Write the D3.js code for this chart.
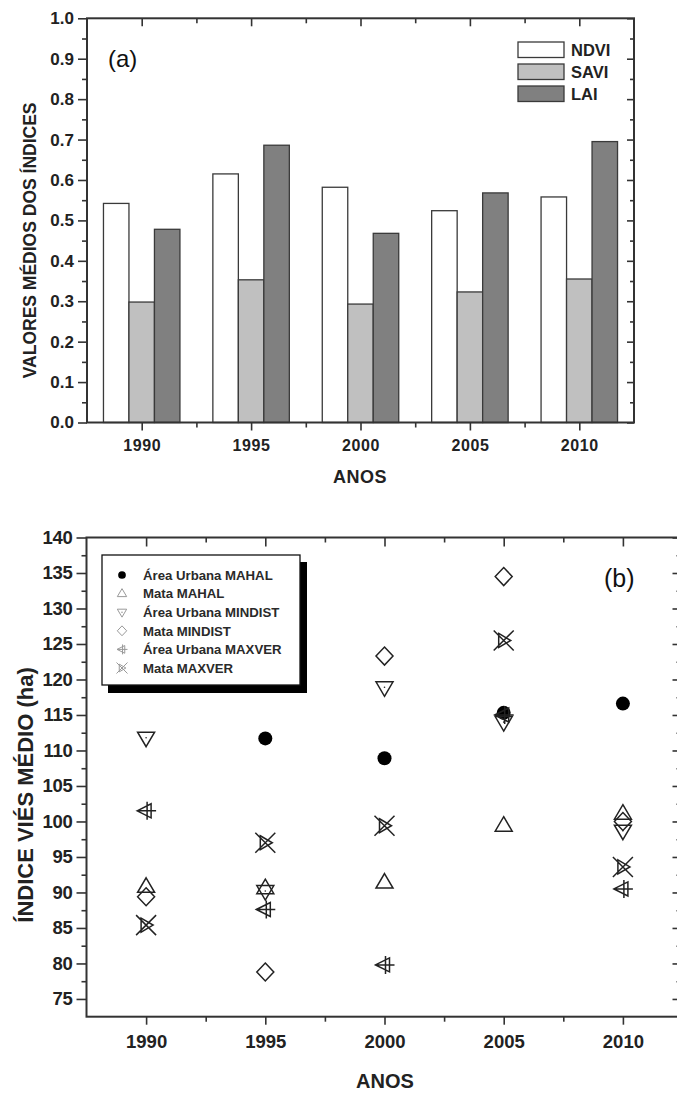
<!DOCTYPE html>
<html><head><meta charset="utf-8">
<script src="https://cdn.jsdelivr.net/npm/d3@7"></script>
<style>
body{margin:0;background:#fff;}
svg{display:block;}
text{font-family:"Liberation Sans",Arial,sans-serif;}
</style></head>
<body>
<svg id="c" width="677" height="1095"></svg>
<script>
// ---------- DATA ----------
const years = [1990, 1995, 2000, 2005, 2010];
// Chart (a)
const barSeriesNames = ["NDVI", "SAVI", "LAI"];
const ndvi = [0.542, 0.615, 0.582, 0.524, 0.558];
const savi = [0.298, 0.353, 0.293, 0.323, 0.355];
const lai  = [0.478, 0.686, 0.468, 0.568, 0.695];
const yTicksA = [0, 0.1, 0.2, 0.3, 0.4, 0.5, 0.6, 0.7, 0.8, 0.9, 1.0];
// Chart (b)
const scatterSeriesNames = ["Área Urbana MAHAL", "Mata MAHAL", "Área Urbana MINDIST", "Mata MINDIST", "Área Urbana MAXVER", "Mata MAXVER"];
const urbanMahal   = [null, 111.7, 108.9, 115.3, 116.6];
const mataMahal    = [90.8, 90.6, 91.4, 99.4, 101.1];
const urbanMindist = [111.8, 90.2, 118.9, 114.0, 98.7];
const mataMindist  = [89.4, 78.8, 123.3, 134.5, 100.0];
const urbanMaxver  = [101.5, 87.6, 79.8, 115.0, 90.5];
const mataMaxver   = [85.4, 97.0, 99.4, 125.5, 93.6];
const yTicksB = [75, 80, 85, 90, 95, 100, 105, 110, 115, 120, 125, 130, 135, 140];

const svg = d3.select("#c");
const AX = "#333";

// ---------- CHART (a) ----------
const A = {l: 87, r: 634, t: 18.3, b: 422.5};
const xA = d3.scaleLinear().domain([1987.5, 2012.5]).range([A.l, A.r]);
const yA = d3.scaleLinear().domain([0, 1]).range([A.b, A.t]);
const gA = svg.append("g");

const barFill = ["#ffffff", "#c0c0c0", "#808080"];
const barVals = [ndvi, savi, lai];
const bw = xA(1991.165) - xA(1990);
barVals.forEach((vals, si) => {
  gA.selectAll(null).data(years.map((yr, i) => ({yr, v: vals[i]}))).enter()
    .append("rect")
    .attr("x", d => xA(d.yr) + (si - 1.5) * bw)
    .attr("y", d => yA(d.v))
    .attr("width", bw)
    .attr("height", d => yA(0) - yA(d.v))
    .attr("fill", barFill[si])
    .attr("stroke", "#3a3a3a").attr("stroke-width", 1.3);
});

// axes for (a)
const minorA = d3.range(0.05, 1, 0.1);
const minorXA = [1992.5, 1997.5, 2002.5, 2007.5];
function styleAxis(g){ g.select(".domain").remove(); g.selectAll("line").attr("stroke", AX).attr("stroke-width", 1.6); }

gA.append("g").attr("transform", `translate(${A.l},0)`)
  .call(d3.axisLeft(yA).tickValues(yTicksA).tickFormat(d3.format(".1f")).tickSize(9).tickPadding(4))
  .call(styleAxis)
  .call(g => g.selectAll("text").attr("font-size", 17).attr("font-weight", "bold").attr("fill", "#222"));
gA.append("g").attr("transform", `translate(${A.l},0)`)
  .call(d3.axisLeft(yA).tickValues(minorA).tickFormat("").tickSize(5)).call(styleAxis);
gA.append("g").attr("transform", `translate(${A.r},0)`)
  .call(d3.axisLeft(yA).tickValues(yTicksA).tickFormat("").tickSize(-7).tickSizeInner(7)).call(styleAxis)
  .call(g => g.selectAll("line").attr("x2", -7));
gA.append("g").attr("transform", `translate(${A.r},0)`)
  .call(d3.axisLeft(yA).tickValues(minorA).tickFormat("").tickSize(4)).call(styleAxis)
  .call(g => g.selectAll("line").attr("x2", -4));
gA.append("g").attr("transform", `translate(0,${A.b})`)
  .call(d3.axisBottom(xA).tickValues(years).tickFormat(d3.format("d")).tickSize(8).tickPadding(9))
  .call(styleAxis)
  .call(g => g.selectAll("text").attr("font-size", 16).attr("font-weight", "bold").attr("fill", "#222").attr("letter-spacing", 0.6));
gA.append("g").attr("transform", `translate(0,${A.b})`)
  .call(d3.axisBottom(xA).tickValues(minorXA).tickFormat("").tickSize(5)).call(styleAxis);
gA.append("g").attr("transform", `translate(0,${A.t})`)
  .call(d3.axisBottom(xA).tickValues(years).tickFormat("").tickSize(8)).call(styleAxis);
gA.append("g").attr("transform", `translate(0,${A.t})`)
  .call(d3.axisBottom(xA).tickValues(minorXA).tickFormat("").tickSize(5)).call(styleAxis);
gA.append("rect").attr("x", A.l).attr("y", A.t).attr("width", A.r - A.l).attr("height", A.b - A.t)
  .attr("fill", "none").attr("stroke", AX).attr("stroke-width", 2);

gA.append("text").attr("transform", `translate(36,${(A.t + A.b) / 2 + 20}) rotate(-90)`)
  .attr("text-anchor", "middle").attr("font-size", 17.5).attr("font-weight", "bold").attr("fill", "#222")
  .text("VALORES MÉDIOS DOS ÍNDICES");
gA.append("text").attr("x", 360).attr("y", 483).attr("text-anchor", "middle")
  .attr("font-size", 18).attr("font-weight", "bold").attr("fill", "#222").attr("letter-spacing", 0.5).text("ANOS");
gA.append("text").attr("x", 108).attr("y", 67).attr("font-family", "Liberation Serif, Times New Roman, serif")
  .attr("font-size", 24).attr("fill", "#111").text("(a)");

// legend (a)
const legA = gA.append("g");
barSeriesNames.forEach((n, i) => {
  legA.append("rect").attr("x", 518).attr("y", 42 + i * 22).attr("width", 46).attr("height", 15.5)
    .attr("fill", barFill[i]).attr("stroke", "#3a3a3a").attr("stroke-width", 1.3);
  legA.append("text").attr("x", 571).attr("y", 55.5 + i * 22).attr("font-size", 16.5).attr("font-weight", "bold")
    .attr("fill", "#222").text(n);
});

// ---------- CHART (b) ----------
const B = {l: 86.5, r: 682.5, t: 537.5, b: 1016.7};
const xB = d3.scaleLinear().domain([1987.5, 2012.5]).range([B.l, B.r]);
const yB = d3.scaleLinear().domain([72.5, 140]).range([B.b, B.t]);
const gB = svg.append("g");
const minorB = d3.range(77.5, 140, 5);

gB.append("g").attr("transform", `translate(${B.l},0)`)
  .call(d3.axisLeft(yB).tickValues(yTicksB).tickFormat(d3.format("d")).tickSize(10).tickPadding(4))
  .call(styleAxis)
  .call(g => g.selectAll("text").attr("font-size", 18.5).attr("font-weight", "bold").attr("fill", "#222").attr("letter-spacing", -0.3));
gB.append("g").attr("transform", `translate(${B.l},0)`)
  .call(d3.axisLeft(yB).tickValues(minorB).tickFormat("").tickSize(5)).call(styleAxis);
gB.append("g").attr("transform", `translate(${B.r},0)`)
  .call(d3.axisLeft(yB).tickValues(yTicksB).tickFormat("").tickSize(10)).call(styleAxis)
  .call(g => g.selectAll("line").attr("x2", -10));
gB.append("g").attr("transform", `translate(${B.r},0)`)
  .call(d3.axisLeft(yB).tickValues(minorB).tickFormat("").tickSize(5)).call(styleAxis)
  .call(g => g.selectAll("line").attr("x2", -6));
gB.append("g").attr("transform", `translate(0,${B.b})`)
  .call(d3.axisBottom(xB).tickValues(years).tickFormat(d3.format("d")).tickSize(8).tickPadding(10))
  .call(styleAxis)
  .call(g => g.selectAll("text").attr("font-size", 18.5).attr("font-weight", "bold").attr("fill", "#222"));
gB.append("g").attr("transform", `translate(0,${B.b})`)
  .call(d3.axisBottom(xB).tickValues(minorXA).tickFormat("").tickSize(5)).call(styleAxis);
gB.append("g").attr("transform", `translate(0,${B.t})`)
  .call(d3.axisBottom(xB).tickValues(years).tickFormat("").tickSize(9)).call(styleAxis);
gB.append("g").attr("transform", `translate(0,${B.t})`)
  .call(d3.axisBottom(xB).tickValues(minorXA).tickFormat("").tickSize(5)).call(styleAxis);
gB.append("rect").attr("x", B.l).attr("y", B.t).attr("width", B.r - B.l).attr("height", B.b - B.t)
  .attr("fill", "none").attr("stroke", AX).attr("stroke-width", 2);

gB.append("text").attr("transform", `translate(33,795) rotate(-90)`)
  .attr("text-anchor", "middle").attr("font-size", 22).attr("font-weight", "bold").attr("fill", "#222")
  .text("ÍNDICE VIÉS MÉDIO (ha)");
gB.append("text").attr("x", 385).attr("y", 1088).attr("text-anchor", "middle")
  .attr("font-size", 20).attr("font-weight", "bold").attr("fill", "#222").text("ANOS");
gB.append("text").attr("x", 604).attr("y", 587).attr("font-family", "Liberation Serif, Times New Roman, serif")
  .attr("font-size", 25).attr("fill", "#111").text("(b)");

// marker drawers (s = scale)
const markers = [
  (g, s, c) => g.append("circle").attr("r", 7 * s).attr("fill", "#000"),
  (g, s, c) => g.append("path").attr("d", `M0,${-9*s}L${8.5*s},${5.5*s}L${-8.5*s},${5.5*s}Z`).attr("fill", "none").attr("stroke", c),
  (g, s, c) => { g.append("path").attr("d", `M0,${9*s}L${8.5*s},${-5.5*s}L${-8.5*s},${-5.5*s}Z`).attr("fill", "none").attr("stroke", c);
                 g.append("circle").attr("r", 0.8).attr("fill", c); },
  (g, s, c) => g.append("path").attr("d", `M0,${-9*s}L${8.5*s},0L0,${9*s}L${-8.5*s},0Z`).attr("fill", "none").attr("stroke", c),
  (g, s, c) => g.append("path").attr("d",
      `M${-9*s},0L${5*s},${-7*s}L${5*s},${7*s}Z M${-9*s},0L${10*s},0 M${1*s},${-9*s}L${1*s},${9*s}`).attr("fill", "none").attr("stroke", c),
  (g, s, c) => g.append("path").attr("d",
      `M${-10*s},${-10*s}L${10*s},${10*s} M${-10*s},${10*s}L${10*s},${-10*s} M${-5*s},${-7*s}L${7*s},0L${-5*s},${7*s}Z`).attr("fill", "none").attr("stroke", c)
];

const scatterVals = [urbanMahal, mataMahal, urbanMindist, mataMindist, urbanMaxver, mataMaxver];
scatterVals.forEach((vals, si) => {
  years.forEach((yr, i) => {
    if (vals[i] == null) return;
    const g = gB.append("g").attr("transform", `translate(${xB(yr)},${yB(vals[i])})`)
      .attr("stroke-width", 1.5);
    markers[si](g, 1, "#222");
  });
});

// legend (b)
const legB = gB.append("g");
legB.append("rect").attr("x", 108).attr("y", 562).attr("width", 199).attr("height", 131).attr("fill", "#000");
legB.append("rect").attr("x", 102).attr("y", 555).attr("width", 198).attr("height", 130)
  .attr("fill", "#fff").attr("stroke", "#111").attr("stroke-width", 1.3);
scatterSeriesNames.forEach((n, i) => {
  const cy = 575 + i * 18.6;
  const g = legB.append("g").attr("transform", `translate(122,${cy})`).attr("stroke-width", 1);
  markers[i](g, 0.55, "#999");
  legB.append("text").attr("x", 143).attr("y", cy + 4.8).attr("font-size", 13.2).attr("font-weight", "bold")
    .attr("fill", "#2a2a2a").text(n);
});
</script>
</body></html>
